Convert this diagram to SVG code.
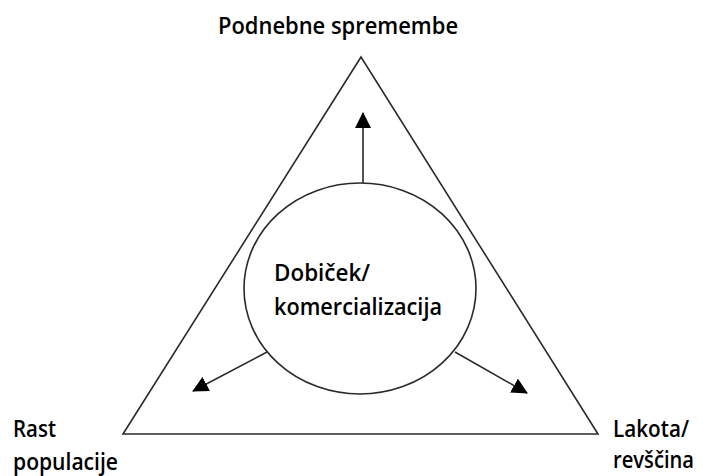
<svg xmlns="http://www.w3.org/2000/svg" width="703" height="476" viewBox="0 0 703 476">
<style>
.shape{fill:none;stroke:#2a2a2a;stroke-width:1.6}
.conn{stroke:#2a2a2a;stroke-width:1.6;fill:none}
.lbl{font-family:"Open Sans","Liberation Sans",sans-serif;font-weight:600;font-size:24px;fill:#000}
.rt{font-size:22.5px}
</style>
<defs>
<marker id="ah" markerUnits="userSpaceOnUse" markerWidth="16" markerHeight="16" viewBox="0 0 16 16" refX="15" refY="8" orient="auto">
<path d="M0,0 L16,8 L0,16 Z" fill="#000"/>
</marker>
</defs>
<rect width="703" height="476" fill="#fff"/>
<g id="triangle">
<polygon class="shape" points="361,57 123,434 598,434"/>
</g>
<g id="center">
<ellipse class="shape" cx="360" cy="288.5" rx="116" ry="105.5"/>
<text class="lbl" x="274" y="281" textLength="96" lengthAdjust="spacingAndGlyphs">Dobiček/</text>
<text class="lbl" x="274" y="315" textLength="168" lengthAdjust="spacingAndGlyphs">komercializacija</text>
</g>
<g id="top">
<text class="lbl" x="218" y="34" textLength="240" lengthAdjust="spacingAndGlyphs">Podnebne spremembe</text>
</g>
<g id="left">
<text class="lbl" x="13" y="437" textLength="43" lengthAdjust="spacingAndGlyphs">Rast</text>
<text class="lbl" x="13" y="470" textLength="105" lengthAdjust="spacingAndGlyphs">populacije</text>
</g>
<g id="right">
<text class="lbl rt" x="613" y="437" textLength="76" lengthAdjust="spacingAndGlyphs">Lakota/</text>
<text class="lbl rt" x="613" y="468" textLength="81" lengthAdjust="spacingAndGlyphs">revščina</text>
</g>
<g id="connectors">
<line class="conn" x1="363" y1="183" x2="363" y2="113" marker-end="url(#ah)"/>
<line class="conn" x1="267" y1="352" x2="193" y2="391" marker-end="url(#ah)"/>
<line class="conn" x1="455" y1="352" x2="527" y2="393" marker-end="url(#ah)"/>
</g>
</svg>
